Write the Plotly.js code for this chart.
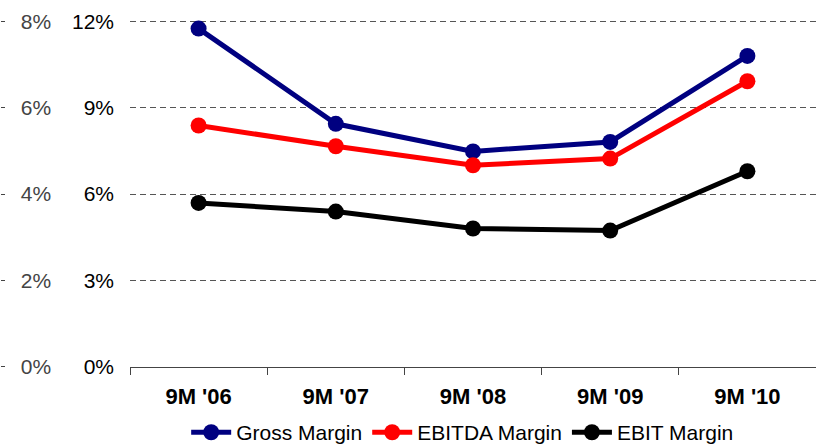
<!DOCTYPE html>
<html>
<head>
<meta charset="utf-8">
<script src="https://cdn.plot.ly/plotly-3.0.1.min.js"></script>
<style>html,body{margin:0;padding:0;background:#fff}#chart{width:816px;height:446px}</style>
</head>
<body>
<div id="chart"></div>
<script>
const categories = ["9M '06", "9M '07", "9M '08", "9M '09", "9M '10"];
const grossMargin = [11.75, 8.44, 7.48, 7.81, 10.80];
const ebitdaMargin = [8.38, 7.66, 7.00, 7.23, 9.92];
const ebitMargin = [5.69, 5.39, 4.80, 4.73, 6.79];
const innerTickVals = [0, 3, 6, 9, 12];
const innerTickText = ["0%", "3%", "6%", "9%", "12%"];
const gridVals = [3, 6, 9, 12];
const outerTickVals = [0, 2, 4, 6, 8];
const outerTickText = ["0%", "2%", "4%", "6%", "8%"];

const font = "Liberation Sans, Arial, sans-serif";
function series(name, y, color) {
  return {
    type: "scatter", mode: "lines+markers", name: name, x: categories, y: y,
    line: {color: color, width: 5}, marker: {color: color, size: 16},
    xaxis: "x", yaxis: "y", cliponaxis: false
  };
}
const data = [
  {type: "scatter", x: [categories[0]], y: [0], yaxis: "y3", xaxis: "x", mode: "none", showlegend: false, hoverinfo: "skip"},
  {type: "scatter", x: [categories[0]], y: [0], yaxis: "y2", xaxis: "x", mode: "none", showlegend: false, hoverinfo: "skip"},
  series("Gross Margin", grossMargin, "#000080"),
  series("EBITDA Margin", ebitdaMargin, "#FF0000"),
  series("EBIT Margin", ebitMargin, "#000000")
];
const layout = {
  width: 816, height: 446,
  margin: {l: 0, r: 0, t: 7.3, b: 64.6, autoexpand: false},
  paper_bgcolor: "#fff", plot_bgcolor: "#fff",
  font: {family: font, color: "#000", size: 19},
  showlegend: true,
  legend: {orientation: "h", x: 0.567, xanchor: "center", y: -0.138, yanchor: "middle",
           font: {size: 21, family: font}, itemwidth: 40, tracegroupgap: 0},
  xaxis: {
    domain: [130/816, 1], type: "category", range: [-0.5, 4.5],
    anchor: "free", position: 0.5/13,
    showline: true, linecolor: "#444", linewidth: 1,
    ticks: "outside", tickson: "boundaries", ticklen: 7, tickcolor: "#444",
    ticklabelstandoff: 10,
    tickfont: {size: 22, family: font, weight: "bold"},
    showgrid: false, zeroline: false, fixedrange: true
  },
  yaxis: {
    range: [-0.5, 12.5], anchor: "free", position: 130/816, side: "left",
    tickvals: innerTickVals, ticktext: innerTickText,
    showgrid: false,
    showline: false, ticks: "", zeroline: false, ticklabelstandoff: 16,
    tickfont: {size: 21, family: font}, fixedrange: true
  },
  yaxis3: {
    range: [-0.5, 12.5], overlaying: "y", anchor: "free", position: 130/816, side: "left",
    tickvals: gridVals, showticklabels: false,
    showgrid: true, gridcolor: "#555", griddash: "6px,4px", gridwidth: 1,
    showline: false, ticks: "", zeroline: false, fixedrange: true
  },
  yaxis2: {
    range: [-0.5*8/12, 12.5*8/12], overlaying: "y", anchor: "free", position: 0, side: "left",
    tickvals: outerTickVals, ticktext: outerTickText,
    ticks: "inside", ticklen: 4, tickcolor: "#444",
    ticklabelposition: "inside", ticklabelstandoff: 17,
    showgrid: false, showline: false, zeroline: false,
    tickfont: {size: 21, family: font}, fixedrange: true
  }
};
Plotly.newPlot("chart", data, layout, {staticPlot: true, displayModeBar: false});
</script>
</body>
</html>
